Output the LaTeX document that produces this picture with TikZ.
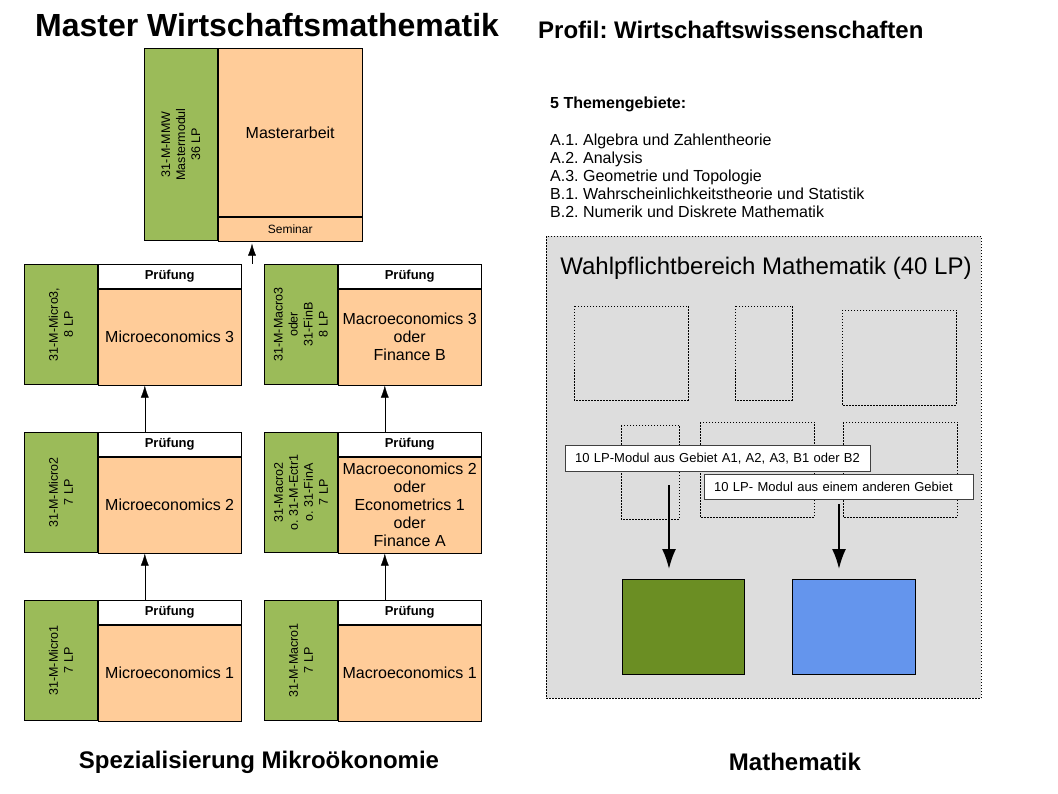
\documentclass[tikz,border=0pt]{standalone}
\usepackage{fontspec}
\setmainfont{Liberation Sans}
\usetikzlibrary{positioning,arrows.meta}
\frenchspacing

\definecolor{gruen}{HTML}{9BBB59}
\definecolor{apricot}{HTML}{FFCC99}
\definecolor{hellgrau}{HTML}{DDDDDD}
\definecolor{oliv}{HTML}{6B8E23}
\definecolor{blau}{HTML}{6495ED}

\begin{document}
\begin{tikzpicture}
  [x=1pt,y=-1pt,
   box/.style={draw,inner sep=0pt,anchor=north west,line width=0.8pt},
   kennung/.style={box,fill=gruen,minimum width=73pt,minimum height=120pt},
   pruefung/.style={box,fill=white,minimum width=143pt,minimum height=24pt,font=\fontsize{13}{15}\selectfont\bfseries},
   fach/.style={box,fill=apricot,minimum width=143pt,minimum height=96pt,align=center,font=\fontsize{16}{18}\selectfont},
   nummer/.style={rotate=90,align=center,font=\fontsize{12.5}{15}\selectfont},
   titel/.style={inner sep=0pt,font=\fontsize{24}{28}\selectfont\bfseries},
   gebiet/.style={draw,dash pattern=on 1.5pt off 1.5pt,line width=0.9pt},
   hinweis/.style={draw=black!75,fill=white,anchor=north west,inner xsep=10pt,inner ysep=0pt,minimum height=26pt,align=left,font=\fontsize{13}{15}\selectfont},
   pfeil/.style={-{Latex[length=12pt,width=8pt]}},
   dickpfeil/.style={line width=2pt,-{Latex[length=20pt,width=14pt]}}]

  \useasboundingbox[fill=white] (0,0) rectangle (1058,794);

  % Ueberschriften
  \node[titel,anchor=west,font=\fontsize{32}{36}\selectfont\bfseries] (haupttitel) at (35,25) {Master Wirtschaftsmathematik};
  \node[titel,anchor=west] (profil) at (538,30) {Profil: Wirtschaftswissenschaften};
  \node[titel] (mikro) at (259,762) {Spezialisierung Mikroökonomie};
  \node[titel] (mathe) at (795,762) {Mathematik};

  % Mastermodul
  \node[kennung,minimum height=192pt] (mmw) at (144,48) {};
  \node[fach,minimum width=144pt,minimum height=168pt] (arbeit) at (mmw.north east) {Masterarbeit};
  \node[fach,minimum width=144pt,minimum height=24pt,font=\fontsize{12}{14}\selectfont] (seminar) at (arbeit.south west) {Seminar};
  \node[nummer] at (mmw) {31-M-MMW\\Mastermodul\\36 LP};

  % Mikro
  \node[kennung] (mi3) at (24,264) {};
  \node[pruefung] (mi3k) at (mi3.north east) {Prüfung};
  \node[fach] (mi3f) at (mi3k.south west) {Microeconomics 3};
  \node[nummer] at (mi3) {31-M-Micro3,\\8 LP};

  \node[kennung] (mi2) at (24,432) {};
  \node[pruefung] (mi2k) at (mi2.north east) {Prüfung};
  \node[fach] (mi2f) at (mi2k.south west) {Microeconomics 2};
  \node[nummer] at (mi2) {31-M-Micro2\\7 LP};

  \node[kennung] (mi1) at (24,600) {};
  \node[pruefung] (mi1k) at (mi1.north east) {Prüfung};
  \node[fach] (mi1f) at (mi1k.south west) {Microeconomics 1};
  \node[nummer] at (mi1) {31-M-Micro1\\7 LP};

  % Makro
  \node[kennung] (ma3) at (264,264) {};
  \node[pruefung] (ma3k) at (ma3.north east) {Prüfung};
  \node[fach] (ma3f) at (ma3k.south west) {Macroeconomics 3\\oder\\Finance B};
  \node[nummer] at (ma3) {31-M-Macro3\\oder\\31-FinB\\8 LP};

  \node[kennung] (ma2) at (264,432) {};
  \node[pruefung] (ma2k) at (ma2.north east) {Prüfung};
  \node[fach] (ma2f) at (ma2k.south west) {Macroeconomics 2\\oder\\Econometrics 1\\oder\\Finance A};
  \node[nummer] at (ma2) {31-Macro2\\o. 31-M-Ectr1\\o. 31-FinA\\7 LP};

  \node[kennung] (ma1) at (264,600) {};
  \node[pruefung] (ma1k) at (ma1.north east) {Prüfung};
  \node[fach] (ma1f) at (ma1k.south west) {Macroeconomics 1};
  \node[nummer] at (ma1) {31-M-Macro1\\7 LP};

  % Pfeile
  \coordinate (mi1a) at ([xshift=47pt]mi1k.north west);
  \coordinate (mi2a) at ([xshift=47pt]mi2k.north west);
  \coordinate (ma1a) at ([xshift=47pt]ma1k.north west);
  \coordinate (ma2a) at ([xshift=47pt]ma2k.north west);
  \draw[pfeil] (mi1a) -- (mi1a |- mi2f.south);
  \draw[pfeil] (mi2a) -- (mi2a |- mi3f.south);
  \draw[pfeil] (ma1a) -- (ma1a |- ma2f.south);
  \draw[pfeil] (ma2a) -- (ma2a |- ma3f.south);
  \coordinate (start) at (252,264);
  \draw[pfeil,shorten >=2pt] (start) -- (start |- seminar.south);

  % Themengebiete
  \node[titel,anchor=west,font=\fontsize{16}{18}\selectfont\bfseries] (themen) at (550,104) {5 Themengebiete:};
  \node[titel,anchor=west,align=left,font=\fontsize{16}{18}\selectfont] (liste) at (550,176)
    {A.1. Algebra und Zahlentheorie\\A.2. Analysis\\A.3. Geometrie und Topologie\\B.1. Wahrscheinlichkeitstheorie und Statistik\\B.2. Numerik und Diskrete Mathematik};

  % Wahlpflichtbereich
  \node[gebiet,fill=hellgrau,anchor=north west,minimum width=435pt,minimum height=462pt] (wpb) at (546,236) {};
  \node[font=\fontsize{24}{28}\selectfont] (wpbtitel) at (766,268) {Wahlpflichtbereich Mathematik (40 LP)};

  \foreach \a/\b/\c/\d in {574/306/688/400, 735/306/792/400, 842/310/956/405,
                           621/425/679/519, 700/422/814/517, 843/422/957/517}
    \draw[gebiet] (\a,\b) rectangle (\c,\d);

  \node[hinweis,text width=285pt] (h1) at (565,445) {10 LP-Modul aus Gebiet A1, A2, A3, B1 oder B2};
  \node[hinweis,text width=249pt,minimum height=25pt] (h2) at (704,474) {10 LP- Modul aus einem anderen Gebiet};

  \node[box,fill=oliv,minimum width=122pt,minimum height=95pt] (modul1) at (622,579) {};
  \node[box,fill=blau,minimum width=123pt,minimum height=95pt] (modul2) at (792,579) {};

  \coordinate (p1) at (669,485);
  \coordinate (p2) at (839,504);
  \draw[dickpfeil,shorten >=10pt] (p1) -- (p1 |- modul1.north);
  \draw[dickpfeil,shorten >=10pt] (p2) -- (p2 |- modul2.north);

\end{tikzpicture}
\end{document}
